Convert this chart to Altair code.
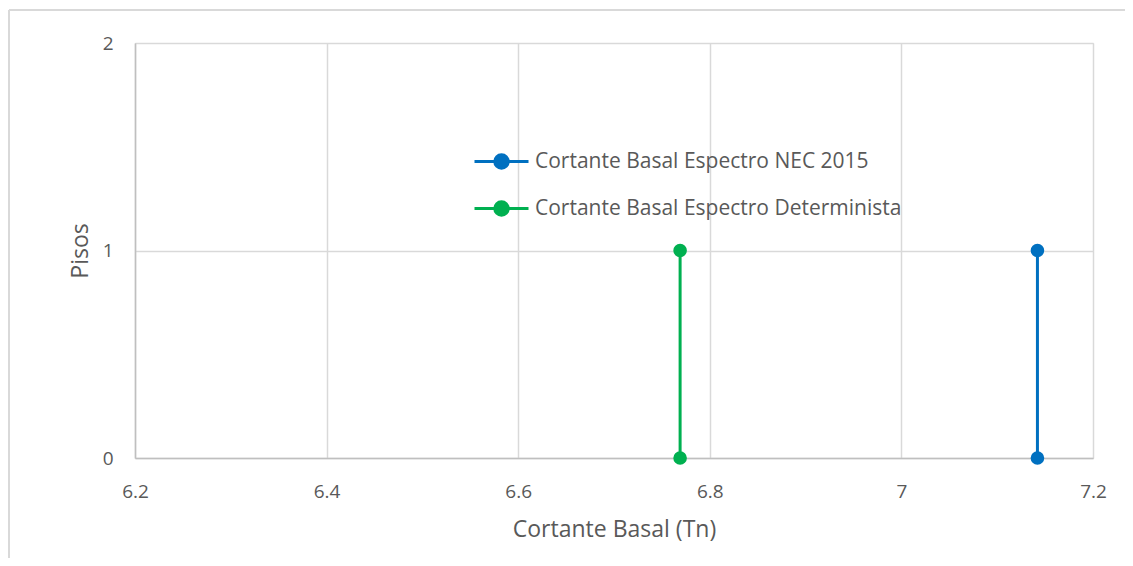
import altair as alt
import pandas as pd

series_names = ["Cortante Basal Espectro NEC 2015", "Cortante Basal Espectro Determinista"]
series_colors = ["#0070C0", "#00B050"]
nec_x = [7.142, 7.142]
nec_y = [0, 1]
det_x = [6.769, 6.769]
det_y = [0, 1]
x_ticks = [6.2, 6.4, 6.6, 6.8, 7.0, 7.2]
y_ticks = [0, 1, 2]

rows = []
for xv, yv in zip(nec_x, nec_y):
    rows.append({"serie": series_names[0], "x": xv, "y": yv})
for xv, yv in zip(det_x, det_y):
    rows.append({"serie": series_names[1], "x": xv, "y": yv})
df = pd.DataFrame(rows)

FONT = "Open Sans"
TXT = "#595959"
legend_path = "M-1,0H1M0.25,0A0.25,0.25 0 1,1 -0.25,0A0.25,0.25 0 1,1 0.25,0Z"

color = alt.Color(
    "serie:N",
    scale=alt.Scale(domain=series_names, range=series_colors),
    legend=alt.Legend(
        title=None,
        orient="none",
        legendX=338,
        legendY=90,
        symbolType=legend_path,
        symbolSize=2916,
        symbolStrokeWidth=3,
        labelFont=FONT,
        labelFontSize=21,
        labelColor=TXT,
        labelOffset=5,
        rowPadding=5,
        labelLimit=700,
    ),
)

axis_common = dict(
    titleFont=FONT,
    titleFontSize=23,
    titleFontWeight="normal",
    titleColor=TXT,
    labelFont=FONT,
    labelFontSize=19,
    labelColor=TXT,
    labelFlush=False,
    labelOverlap=False,
    ticks=False,
    domainColor="#bfbfbf",
    domainWidth=1.5,
    gridColor="#d9d9d9",
    gridWidth=1.5,
)

base = alt.Chart(df).encode(
    x=alt.X(
        "x:Q",
        scale=alt.Scale(domain=[6.2, 7.2], nice=False, zero=False),
        axis=alt.Axis(
            values=x_ticks,
            labelExpr="format(datum.value, '~g')",
            title="Cortante Basal (Tn)",
            titlePadding=17,
            labelPadding=24,
            **axis_common,
        ),
    ),
    y=alt.Y(
        "y:Q",
        scale=alt.Scale(domain=[y_ticks[0], y_ticks[-1]], nice=False),
        axis=alt.Axis(
            tickCount=len(y_ticks) - 1,
            format="d",
            title="Pisos",
            titlePadding=10,
            labelPadding=22,
            **axis_common,
        ),
    ),
    color=color,
    detail="serie:N",
)

lines = base.mark_line(strokeWidth=3)
points = base.mark_circle(size=185, opacity=1)

frame_top = alt.Chart(df).mark_rule(color="#d9d9d9", strokeWidth=2).encode(
    x=alt.value(-126), x2=alt.value(1000), y=alt.value(-33)
)
frame_left = alt.Chart(df).mark_rule(color="#d9d9d9", strokeWidth=2).encode(
    x=alt.value(-126), y=alt.value(-33), y2=alt.value(600)
)

chart = (
    alt.layer(frame_top, frame_left, lines, points)
    .properties(
        width=958,
        height=415,
        autosize=alt.AutoSizeParams(type="none"),
        padding={"left": 127, "top": 35, "right": 32, "bottom": 100},
    )
    .configure_view(stroke=None)
    .configure(background="white")
)

chart.save("out.html", embed_options={"renderer": "svg", "actions": False})
